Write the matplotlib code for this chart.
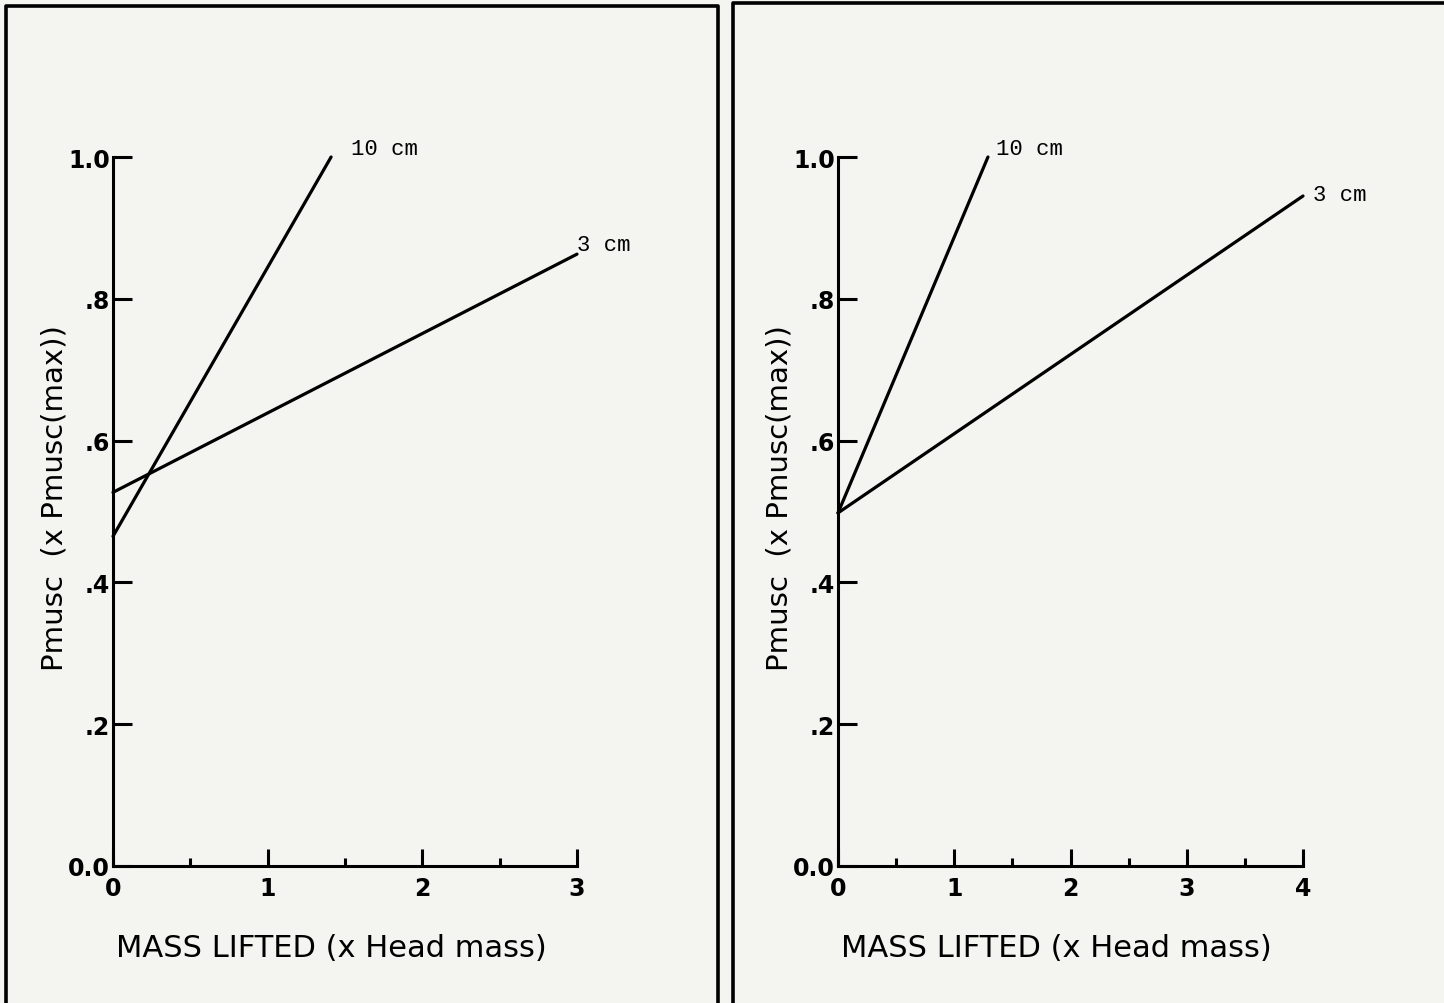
import matplotlib
matplotlib.use("Agg")
import matplotlib.pyplot as plt
from matplotlib.lines import Line2D

# Data
left_10cm_x = [0.0, 1.41]
left_10cm_y = [0.465, 1.0]
left_3cm_x = [0.0, 3.0]
left_3cm_y = [0.527, 0.863]

right_10cm_x = [0.0, 1.29]
right_10cm_y = [0.498, 1.0]
right_3cm_x = [0.0, 4.0]
right_3cm_y = [0.498, 0.945]

y_ticks = [0.0, 0.2, 0.4, 0.6, 0.8, 1.0]
y_ticklabels = ["0.0", ".2", ".4", ".6", ".8", "1.0"]
left_xmax = 3
right_xmax = 4
xlabel = "MASS LIFTED (x Head mass)"
ylabel = "Pmusc  (x Pmusc(max))"
label_10 = "10 cm"
label_3 = "3 cm"

W, H = 1444, 1004
bg = "#f4f4f1"
fig = plt.figure(figsize=(W / 100, H / 100), dpi=100, facecolor=bg)


def make_axes(x0, x1, xmax, l10x, l10y, l3x, l3y, lab10_off, lab3_off):
    y0, y1 = 158, 867
    ax = fig.add_axes([x0 / W, 1 - y1 / H, (x1 - x0) / W, (y1 - y0) / H])
    ax.set_facecolor("none")
    ax.set_xlim(0, xmax)
    ax.set_ylim(0, 1.0)
    for s in ["top", "right"]:
        ax.spines[s].set_visible(False)
    for s in ["left", "bottom"]:
        ax.spines[s].set_linewidth(2.2)
        ax.spines[s].set_color("black")
    ax.set_yticks(y_ticks)
    ax.set_yticklabels(y_ticklabels)
    ax.set_xticks(range(0, xmax + 1))
    ax.set_xticks([i + 0.5 for i in range(xmax)], minor=True)
    ax.tick_params(axis="y", direction="in", length=14, width=2.2, pad=2,
                   labelsize=17)
    ax.tick_params(axis="x", which="major", direction="in", length=12, width=2.2,
                   pad=7, labelsize=17)
    ax.tick_params(axis="x", which="minor", direction="in", length=6, width=2.2)
    for t in ax.get_xticklabels() + ax.get_yticklabels():
        t.set_fontweight("bold")
    ax.plot(l10x, l10y, color="black", lw=2.3, solid_capstyle="round", clip_on=False)
    ax.plot(l3x, l3y, color="black", lw=2.3, solid_capstyle="round", clip_on=False)
    ax.annotate(label_10, (l10x[-1], l10y[-1]), xytext=lab10_off,
                textcoords="offset points", family="Liberation Mono", fontsize=16,
                ha="left", va="center")
    ax.annotate(label_3, (l3x[-1], l3y[-1]), xytext=lab3_off,
                textcoords="offset points", family="Liberation Mono", fontsize=16,
                ha="left", va="center")
    ax.set_xlabel(xlabel, fontsize=22)
    ax.xaxis.set_label_coords(0.47, -0.095)
    ax.set_ylabel(ylabel, fontsize=21)
    ax.yaxis.set_label_coords(-0.095, 0.52)
    return ax


make_axes(113, 577, left_xmax, left_10cm_x, left_10cm_y, left_3cm_x, left_3cm_y,
          (14, 6), (0, 7))
make_axes(838, 1303, right_xmax, right_10cm_x, right_10cm_y, right_3cm_x, right_3cm_y,
          (6, 6), (7, 1))


# Panel borders
def border(xl, xr, yt):
    xs = [xl, xl, xr, xr]
    ys = [H + 5, yt, yt, H + 5]
    fx = [x / W for x in xs]
    fy = [1 - y / H for y in ys]
    fig.add_artist(Line2D(fx, fy, color="black", lw=2.6, solid_joinstyle="round"))


border(6, 718, 7)
border(733, 1446, 4)

fig.savefig("out.png", dpi=100, facecolor=bg)
